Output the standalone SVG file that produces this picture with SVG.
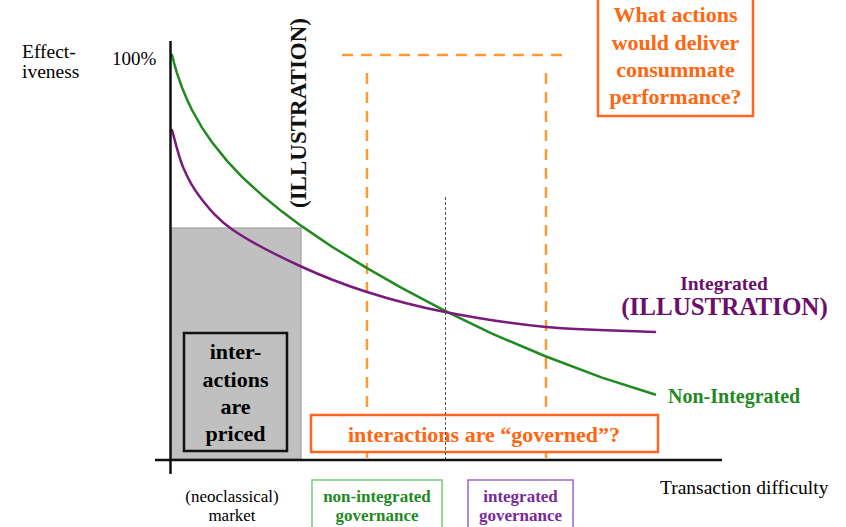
<svg xmlns="http://www.w3.org/2000/svg" width="846" height="527" viewBox="0 0 846 527">
<style>
text{font-family:"Liberation Serif","Times New Roman",serif;}
.b{font-weight:bold;}
.or{fill:#ff6611;}
.dash{stroke:#ff9933;stroke-width:2.5;stroke-dasharray:11 8;fill:none;}
.curve{fill:none;stroke-width:2.5;stroke-linecap:round;stroke-linejoin:round;}
</style>
<rect width="846" height="527" fill="#fff"/>
<g id="market-area">
<rect x="171" y="228" width="130" height="231" fill="#c0c0c0" stroke="#a0a0a0" stroke-width="1.2"/>
</g>
<g id="connectors">
<line class="dash" x1="342" y1="55" x2="566" y2="55"/>
<line class="dash" x1="367" y1="73" x2="367" y2="458"/>
<line class="dash" x1="546" y1="73" x2="546" y2="458"/>
<polyline class="curve" stroke="#1f8a1f" points="172,55 174,62.8 177,73.1 182,87.5 187,99.6 192,110 202,127.6 212,142.3 227,160.9 242,176.8 262,195.2 282,211.6 302,226.4 332,246.7 367,268.1 402,288.1 445,310.9 492,333.7 546,356.5 602,377.6 655,394.5"/>
<path class="curve" stroke="#7a1a7a" d="M172,130 C173.8,136.2 178.3,155.8 183,167 C187.7,178.2 191.7,186.5 200,197 C208.3,207.5 216.3,218.5 233,230 C249.7,241.5 277.7,255.7 300,266 C322.3,276.3 342.8,284.3 367,292 C391.2,299.7 415.2,306.2 445,312 C474.8,317.8 511,323.7 546,327 C581,330.3 636.8,331.2 655,332"/>
</g>
<g id="governed-box">
<rect x="311" y="415" width="347" height="37" fill="#fff" stroke="#ff6622" stroke-width="2.5"/>
<text class="b or" x="484" y="442" font-size="22" text-anchor="middle">interactions are “governed”?</text>
</g>
<g id="divider">
<line x1="445.5" y1="197" x2="445.5" y2="460" stroke="#555" stroke-width="1" stroke-dasharray="3 2"/>
</g>
<g id="axes">
<line x1="170.5" y1="41" x2="170.5" y2="474" stroke="#111" stroke-width="2.5"/>
<line x1="155" y1="460" x2="722" y2="460" stroke="#111" stroke-width="2.5"/>
</g>
<g id="priced-box">
<rect x="184" y="333" width="103" height="118" fill="none" stroke="#111" stroke-width="2.5"/>
<text class="b" x="235.5" y="359" font-size="22" text-anchor="middle">inter-</text>
<text class="b" x="235.5" y="387" font-size="22" text-anchor="middle">actions</text>
<text class="b" x="235.5" y="414" font-size="22" text-anchor="middle">are</text>
<text class="b" x="235.5" y="441" font-size="22" text-anchor="middle">priced</text>
</g>
<g id="question-box">
<rect x="598" y="-3" width="155" height="119" fill="#fff" stroke="#ff6622" stroke-width="2.5"/>
<text class="b or" x="675.5" y="22" font-size="22" text-anchor="middle">What actions</text>
<text class="b or" x="675.5" y="50" font-size="22" text-anchor="middle">would deliver</text>
<text class="b or" x="675.5" y="77" font-size="22" text-anchor="middle">consummate</text>
<text class="b or" x="675.5" y="104" font-size="22" text-anchor="middle">performance?</text>
</g>
<g id="axis-labels">
<text x="22" y="58" font-size="19.5">Effect-</text>
<text x="22" y="78" font-size="19.5">iveness</text>
<text x="112" y="65" font-size="19">100%</text>
<text x="660" y="494" font-size="19.5">Transaction difficulty</text>
</g>
<g id="illustration-vertical">
<text class="b" transform="translate(306,113) rotate(-90)" font-size="23" text-anchor="middle" fill="#111">(ILLUSTRATION)</text>
</g>
<g id="integrated-label">
<text class="b" x="724" y="290" font-size="19.5" text-anchor="middle" fill="#6a0f6a">Integrated</text>
<text class="b" x="724.5" y="315" font-size="25" text-anchor="middle" fill="#6a0f6a">(ILLUSTRATION)</text>
</g>
<g id="nonintegrated-label">
<text class="b" x="668" y="403" font-size="20" fill="#1f8a1f">Non-Integrated</text>
</g>
<g id="market-label">
<text x="232" y="502" font-size="17" text-anchor="middle">(neoclassical)</text>
<text x="232" y="521" font-size="17" text-anchor="middle">market</text>
</g>
<g id="nonintegrated-governance">
<rect x="312" y="480" width="130" height="52" fill="none" stroke="#77cc77" stroke-width="1.5"/>
<text class="b" x="377" y="502" font-size="17" text-anchor="middle" fill="#1f8a1f">non-integrated</text>
<text class="b" x="377" y="521" font-size="17" text-anchor="middle" fill="#1f8a1f">governance</text>
</g>
<g id="integrated-governance">
<rect x="468" y="480" width="105" height="52" fill="none" stroke="#9966cc" stroke-width="1.5"/>
<text class="b" x="520.5" y="502" font-size="17" text-anchor="middle" fill="#7a2a9a">integrated</text>
<text class="b" x="520.5" y="521" font-size="17" text-anchor="middle" fill="#7a2a9a">governance</text>
</g>
</svg>
